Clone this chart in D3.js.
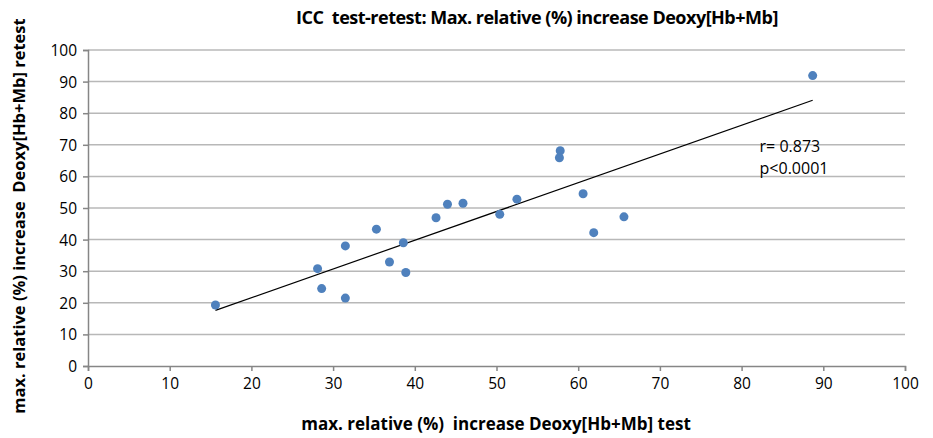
<!DOCTYPE html>
<html>
<head>
<meta charset="utf-8">
<script src="https://cdn.jsdelivr.net/npm/d3@7"></script>
<style>
  body { margin: 0; background: #fff; }
  text { font-family: "Open Sans", "Liberation Sans", sans-serif; fill: #000; }
</style>
</head>
<body>
<div id="chart"></div>
<script>
// test (x) vs retest (y)
const testValues = [15.6, 28.1, 28.6, 31.5, 31.5, 35.3, 36.9, 38.6, 38.9, 42.6, 44.0, 45.9,
  50.4, 52.5, 57.8, 57.7, 60.6, 61.9, 65.6, 88.7];
const retestValues = [19.3, 30.8, 24.5, 21.5, 38.0, 43.3, 32.9, 39.0, 29.6, 46.9, 51.2, 51.5,
  48.0, 52.8, 68.1, 65.9, 54.5, 42.2, 47.2, 91.9];
const xTicks = [0, 10, 20, 30, 40, 50, 60, 70, 80, 90, 100];
const yTicks = [0, 10, 20, 30, 40, 50, 60, 70, 80, 90, 100];
// trend line as drawn (from first to last x)
const trendStart = [15.6, 17.6];
const trendEnd = [88.7, 84.1];
const statLines = ["r= 0.873", "p<0.0001"];

const width = 933, height = 438;
const margin = { top: 50, right: 28, bottom: 72, left: 88 };

const svg = d3.select("#chart").append("svg")
  .attr("width", width).attr("height", height);

const x = d3.scaleLinear().domain([0, 100]).range([margin.left, width - margin.right]);
const y = d3.scaleLinear().domain([0, 100]).range([height - margin.bottom, margin.top]);

// gridlines
svg.append("g")
  .selectAll("line")
  .data(yTicks.filter((d) => d > 0))
  .join("line")
  .attr("x1", x(0)).attr("x2", x(100))
  .attr("y1", (d) => y(d)).attr("y2", (d) => y(d))
  .attr("stroke", "#b8b8b8").attr("stroke-width", 1.5);

// axes
const xAxis = svg.append("g")
  .attr("transform", `translate(0,${y(0)})`)
  .call(d3.axisBottom(x).tickValues(xTicks).tickSize(5).tickPadding(7));
const yAxis = svg.append("g")
  .attr("transform", `translate(${x(0)},0)`)
  .call(d3.axisLeft(y).tickValues(yTicks).tickSize(5).tickPadding(6));

[xAxis, yAxis].forEach((g) => {
  g.select(".domain").attr("stroke", "#868686").attr("stroke-width", 1.5);
  g.selectAll(".tick line").attr("stroke", "#868686").attr("stroke-width", 1.5);
  g.selectAll(".tick text").attr("font-size", 15.5).attr("fill", "#000")
    .attr("font-family", "Open Sans, sans-serif");
});
yAxis.selectAll(".tick text").attr("dy", "0.35em");

// trend line
svg.append("line")
  .attr("x1", x(trendStart[0])).attr("y1", y(trendStart[1]))
  .attr("x2", x(trendEnd[0])).attr("y2", y(trendEnd[1]))
  .attr("stroke", "#000").attr("stroke-width", 1.2);

// points
svg.append("g")
  .selectAll("circle")
  .data(testValues.map((d, i) => [d, retestValues[i]]))
  .join("circle")
  .attr("cx", (d) => x(d[0]))
  .attr("cy", (d) => y(d[1]))
  .attr("r", 4.5)
  .attr("fill", "#4f81bd");

// stats text
svg.append("g")
  .selectAll("text")
  .data(statLines)
  .join("text")
  .attr("x", x(82.2))
  .attr("y", (d, i) => y(67.6) + i * 22)
  .attr("font-size", 16)
  .text((d) => d);

// title
svg.append("text")
  .attr("x", 537).attr("y", 24)
  .attr("text-anchor", "middle")
  .attr("font-size", 18).attr("font-weight", "bold")
  .attr("xml:space", "preserve")
  .style("white-space", "pre")
  .style("letter-spacing", "-0.5px")
  .text("ICC  test-retest: Max. relative (%) increase Deoxy[Hb+Mb]");

// axis titles
svg.append("text")
  .attr("x", 496).attr("y", 430)
  .attr("text-anchor", "middle")
  .attr("font-size", 17).attr("font-weight", "bold")
  .style("white-space", "pre")
  .text("max. relative (%)  increase Deoxy[Hb+Mb] test");

svg.append("text")
  .attr("transform", "translate(25,216) rotate(-90)")
  .attr("text-anchor", "middle")
  .attr("font-size", 16.5).attr("font-weight", "bold")
  .style("white-space", "pre")
  .text("max. relative (%) increase  Deoxy[Hb+Mb] retest");
</script>
</body>
</html>
